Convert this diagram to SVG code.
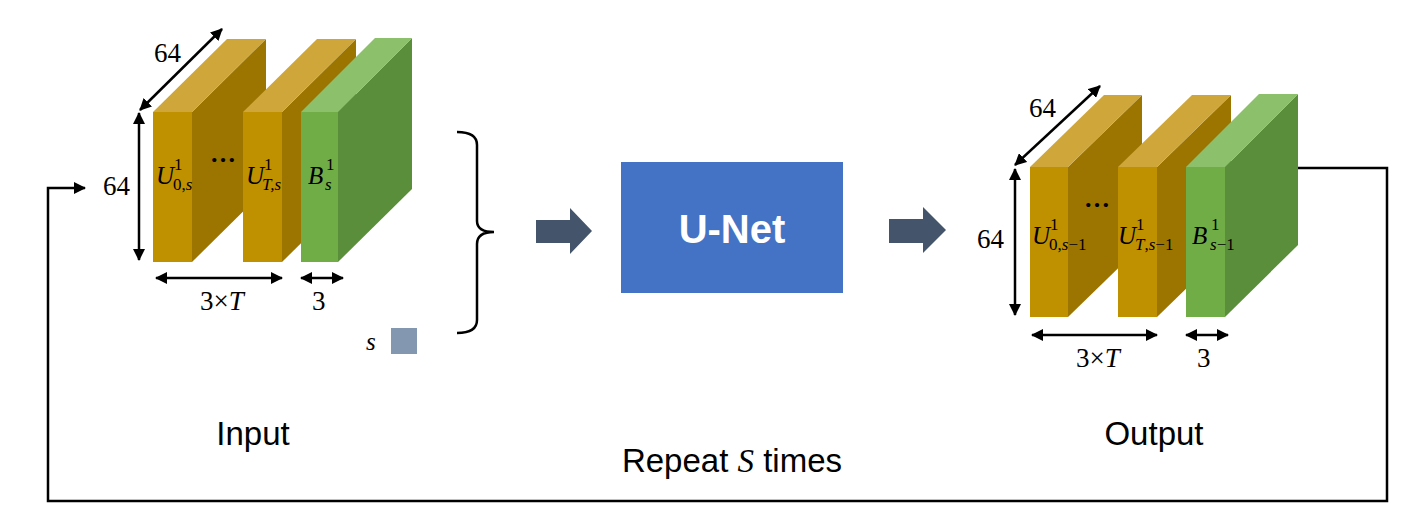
<svg xmlns="http://www.w3.org/2000/svg" width="1424" height="530" viewBox="0 0 1424 530">
<defs>
<marker id="ah" viewBox="0 0 12 12" markerWidth="12" markerHeight="12" markerUnits="userSpaceOnUse" refX="11" refY="6" orient="auto-start-reverse">
<path d="M0,0 L12,6 L0,12 z" fill="#000"/>
</marker>
<style>
.gf{fill:#BF9000}.gt{fill:#CFA639}.gs{fill:#9C7500}
.nf{fill:#70AD47}.nt{fill:#8CC06A}.ns{fill:#5B8E3A}
.dim{stroke:#000;stroke-width:2.5;fill:none;marker-start:url(#ah);marker-end:url(#ah)}
.num{font-family:"Liberation Serif",serif;font-size:27px;fill:#000}
.m{font-family:"Liberation Serif",serif;font-style:italic;font-size:25px;fill:#000}
.ms{font-family:"Liberation Serif",serif;font-style:italic;font-size:17px;fill:#000}
.mu{font-family:"Liberation Serif",serif;font-size:17px;fill:#000}
.dots{font-family:"Liberation Serif",serif;font-weight:bold;font-size:26px;fill:#000}
.lbl{font-family:"Liberation Sans",Arial,sans-serif;font-size:33px;fill:#000}
.barrow{fill:#44546A}
</style>
</defs>

<g id="input-block">
<polygon class="gs" points="192,112 266,39 266,189 192,262"/>
<polygon class="gt" points="153,112 227,39 266,39 192,112"/>
<rect class="gf" x="153" y="112" width="39" height="150"/>
<polygon class="gs" points="282,112 356,39 356,189 282,262"/>
<polygon class="gt" points="243,112 317,39 356,39 282,112"/>
<rect class="gf" x="243" y="112" width="39" height="150"/>
<polygon class="ns" points="338,112 412,38 412,189 338,262"/>
<polygon class="nt" points="301,112 375,38 412,38 338,112"/>
<rect class="nf" x="301" y="112" width="37" height="150"/>
<text class="m" x="156" y="184">U</text><text class="mu" x="174" y="170">1</text><text class="mu" x="173" y="190">0,<tspan font-style="italic">s</tspan></text>
<text class="dots" x="210" y="162">…</text>
<text class="m" x="246" y="184">U</text><text class="mu" x="264" y="170">1</text><text class="ms" x="262" y="190">T,s</text>
<text class="m" x="308" y="184">B</text><text class="mu" x="326" y="170">1</text><text class="ms" x="325" y="190">s</text>
<path class="dim" d="M140,110 L222,29"/>
<text class="num" x="154" y="62">64</text>
<path class="dim" d="M139,113 L139,260"/>
<text class="num" x="103" y="195">64</text>
<path class="dim" d="M156,278 L282,278"/>
<text class="num" x="200" y="310">3×<tspan font-style="italic">T</tspan></text>
<path class="dim" d="M301,278 L343,278"/>
<text class="num" x="312" y="310">3</text>
<text class="lbl" x="253" y="445" text-anchor="middle">Input</text>
</g>

<g id="s-input">
<rect x="391" y="328" width="26" height="26" fill="#8497B0"/>
<text class="m" x="366" y="350">s</text>
</g>

<g id="brace">
<path d="M457,132 Q477,132 477,145 L477,221 Q477,232 494,232 Q477,232 477,244 L477,320 Q477,333 457,333" fill="none" stroke="#000" stroke-width="2.5"/>
</g>

<g id="unet">
<rect x="621" y="162" width="222" height="131" fill="#4472C4"/>
<text x="732" y="243" text-anchor="middle" font-family="'Liberation Sans',Arial,sans-serif" font-weight="bold" font-size="40" fill="#fff">U-Net</text>
</g>

<g id="output-block">
<polygon class="gs" points="1068,167 1142,95 1142,245 1068,317"/>
<polygon class="gt" points="1030,167 1104,95 1142,95 1068,167"/>
<rect class="gf" x="1030" y="167" width="38" height="150"/>
<polygon class="gs" points="1157,167 1231,95 1231,245 1157,317"/>
<polygon class="gt" points="1118,167 1192,95 1231,95 1157,167"/>
<rect class="gf" x="1118" y="167" width="39" height="150"/>
<polygon class="ns" points="1225,167 1298,94 1298,245 1225,317"/>
<polygon class="nt" points="1186,167 1259,94 1298,94 1225,167"/>
<rect class="nf" x="1186" y="167" width="39" height="150"/>
<text class="m" x="1032" y="244">U</text><text class="mu" x="1050" y="230">1</text><text class="mu" x="1049" y="250">0,<tspan font-style="italic">s</tspan>−1</text>
<text class="dots" x="1084" y="207">…</text>
<text class="m" x="1118" y="244">U</text><text class="mu" x="1136" y="230">1</text><text class="mu" x="1135" y="250"><tspan font-style="italic">T</tspan>,<tspan font-style="italic">s</tspan>−1</text>
<text class="m" x="1192" y="244">B</text><text class="mu" x="1211" y="230">1</text><text class="mu" x="1210" y="250"><tspan font-style="italic">s</tspan>−1</text>
<path class="dim" d="M1015,165 L1100,86"/>
<text class="num" x="1029" y="117">64</text>
<path class="dim" d="M1015,169 L1015,315"/>
<text class="num" x="977" y="248">64</text>
<path class="dim" d="M1032,335 L1157,335"/>
<text class="num" x="1076" y="367">3×<tspan font-style="italic">T</tspan></text>
<path class="dim" d="M1186,335 L1228,335"/>
<text class="num" x="1197" y="367">3</text>
<text class="lbl" x="1154" y="445" text-anchor="middle">Output</text>
</g>

<g id="connectors">
<polygon class="barrow" points="536,220 570,220 570,208 592,231 570,254 570,243 536,243"/>
<polygon class="barrow" points="889,219 923,219 923,207 946,230 923,253 923,243 889,243"/>
<path d="M1298,168 L1387,168 L1387,501 L48,501 L48,188 L85,188" fill="none" stroke="#000" stroke-width="2.5" marker-end="url(#ah)"/>
</g>

<g id="repeat-label">
<text class="lbl" x="732" y="472" text-anchor="middle" font-size="34">Repeat <tspan font-family="'Liberation Serif',serif" font-style="italic">S</tspan> times</text>
</g>
</svg>
